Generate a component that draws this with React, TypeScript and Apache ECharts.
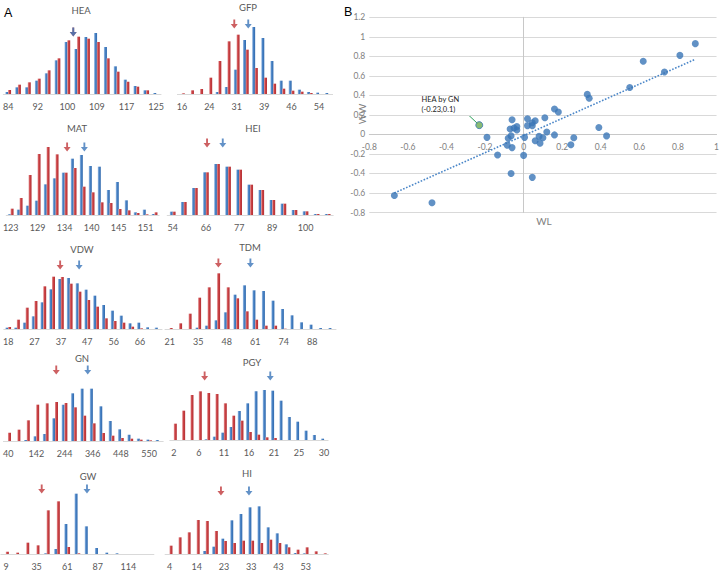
import React, { useEffect, useRef } from "react";
import * as echarts from "echarts";

// ---------- Panel A data (bar heights, relative frequency units) ----------
const HEA_TICKS = [84, 92, 100, 109, 117, 125];
const HEA_BLUE = [6, 20, 20, 40, 62, 101, 156, 135, 171, 183, 141, 83, 43, 24, 11, 3];
const HEA_RED = [12, 28, 35, 46, 71, 107, 161, 172, 166, 156, 107, 67, 37, 22, 11, 0];
const HEA_MEANS = [6.6, 6.6]; // [red, blue] in category units

const GFP_TICKS = [16, 24, 31, 39, 46, 54];
const GFP_BLUE = [0, 0, 0, 0, 6, 21, 73, 162, 201, 168, 99, 40, 40, 13, 6, 4, 3];
const GFP_RED = [2, 11, 15, 49, 99, 158, 178, 133, 78, 49, 31, 16, 10, 7, 3, 0, 0];
const GFP_MEANS = [5.73, 7.26];

const MAT_TICKS = [123, 129, 134, 140, 145, 151];
const MAT_BLUE = [2, 16, 28, 43, 92, 110, 127, 169, 180, 147, 145, 75, 99, 44, 8, 16, 3];
const MAT_RED = [19, 51, 120, 183, 204, 182, 127, 141, 85, 68, 38, 36, 18, 14, 6, 2, 8];
const MAT_MEANS = [6.27, 8.19];

const HEI_TICKS = [54, 66, 77, 89, 100];
const HEI_BLUE = [10, 39, 81, 128, 153, 145, 136, 91, 75, 45, 34, 15, 11, 3, 3];
const HEI_RED = [10, 39, 81, 128, 153, 145, 136, 91, 75, 45, 34, 15, 11, 3, 3];
const HEI_MEANS = [3.1, 4.52];

const VDW_TICKS = [18, 27, 37, 47, 56, 66];
const VDW_BLUE = [4, 4, 19, 38, 80, 119, 150, 153, 137, 118, 100, 72, 55, 40, 17, 19, 5, 4];
const VDW_RED = [6, 28, 64, 84, 128, 157, 156, 136, 112, 87, 67, 32, 24, 19, 7, 2, 0, 0];
const VDW_MEANS = [5.91, 8.07];

const TDM_TICKS = [21, 35, 48, 61, 74, 88];
const TDM_BLUE = [0, 0, 0, 4, 10, 26, 50, 103, 131, 116, 114, 85, 60, 41, 20, 13, 3, 3];
const TDM_RED = [3, 17, 46, 94, 125, 167, 125, 92, 53, 28, 10, 10, 1, 0, 0, 0, 0, 0];
const TDM_MEANS = [5.12, 8.49];

const GN_TICKS = [40, 142, 244, 346, 448, 550];
const GN_BLUE = [0, 0, 3, 14, 21, 68, 109, 143, 157, 157, 104, 60, 35, 19, 7, 4, 3];
const GN_RED = [25, 34, 62, 109, 113, 117, 114, 101, 76, 53, 24, 16, 9, 7, 4, 2, 0];
const GN_MEANS = [5.12, 8.47];

const PGY_TICKS = [2, 6, 11, 16, 21, 25, 30];
const PGY_BLUE = [0, 0, 0, 0, 2, 10, 22, 39, 87, 110, 146, 150, 148, 118, 69, 55, 28, 15, 4];
const PGY_RED = [49, 88, 135, 146, 141, 138, 110, 73, 58, 24, 16, 8, 6, 0, 0, 0, 0, 0, 0];
const PGY_MEANS = [3.68, 11.56];

const GW_TICKS = [9, 35, 61, 87, 114];
const GW_BLUE = [0, 0, 0, 0, 2, 15, 90, 181, 83, 18, 4, 2, 0, 0, 0];
const GW_RED = [7, 4, 34, 26, 131, 158, 21, 2, 0, 0, 0, 0, 0, 0, 0];
const GW_MEANS = [3.5, 7.94];

const HI_TICKS = [4, 14, 23, 33, 43, 53];
const HI_BLUE = [0, 0, 0, 0, 9, 22, 46, 101, 120, 140, 143, 80, 62, 29, 3, 2, 0, 0];
const HI_RED = [25, 50, 65, 102, 99, 69, 39, 33, 40, 40, 33, 43, 33, 20, 13, 20, 8, 2];
const HI_MEANS = [5.66, 8.75];

// ---------- Panel B data ----------
const WL_VALUES = [
  0.89, 0.81, 0.62, 0.73, 0.55, 0.33, 0.34, 0.16, 0.18, 0.11, 0.02, -0.06, 0.06, 0.045,
  0.02, 0.045, -0.035, -0.07, -0.05, -0.035, 0.39, -0.19, 0.43, 0.005, 0.26, 0.16, 0.12,
  -0.08, -0.065, 0.08, 0.1, 0.06, 0.085, 0.245, -0.085, -0.06, -0.135, 0.0, -0.065, 0.045,
  -0.67, -0.475,
];
const WW_VALUES = [
  0.93, 0.81, 0.75, 0.64, 0.48, 0.41, 0.37, 0.26, 0.23, 0.17, 0.16, 0.15, 0.14, 0.12,
  0.09, 0.09, 0.08, 0.055, 0.065, 0.045, 0.07, -0.03, -0.015, -0.03, -0.035, -0.005, 0.025,
  -0.04, -0.015, -0.02, -0.035, -0.065, -0.09, -0.105, -0.11, -0.135, -0.21, -0.215, -0.4,
  -0.44, -0.625, -0.7,
];
const HIGHLIGHT_WL = -0.23;
const HIGHLIGHT_WW = 0.095;
const HIGHLIGHT_LABEL = "HEA by GN\n(-0.23,0.1)";
const TREND_WL = [-0.67, 0.89];
const TREND_WW = [-0.6, 0.77];

const panels = [
  { name: "HEA", ticks: HEA_TICKS, blue: HEA_BLUE, red: HEA_RED, means: HEA_MEANS },
  { name: "GFP", ticks: GFP_TICKS, blue: GFP_BLUE, red: GFP_RED, means: GFP_MEANS },
  { name: "MAT", ticks: MAT_TICKS, blue: MAT_BLUE, red: MAT_RED, means: MAT_MEANS },
  { name: "HEI", ticks: HEI_TICKS, blue: HEI_BLUE, red: HEI_RED, means: HEI_MEANS },
  { name: "VDW", ticks: VDW_TICKS, blue: VDW_BLUE, red: VDW_RED, means: VDW_MEANS },
  { name: "TDM", ticks: TDM_TICKS, blue: TDM_BLUE, red: TDM_RED, means: TDM_MEANS },
  { name: "GN", ticks: GN_TICKS, blue: GN_BLUE, red: GN_RED, means: GN_MEANS },
  { name: "PGY", ticks: PGY_TICKS, blue: PGY_BLUE, red: PGY_RED, means: PGY_MEANS },
  { name: "GW", ticks: GW_TICKS, blue: GW_BLUE, red: GW_RED, means: GW_MEANS },
  { name: "HI", ticks: HI_TICKS, blue: HI_BLUE, red: HI_RED, means: HI_MEANS },
];

// layout (pixels): grid left/width, baseline y, arrow height (value units), title position
const layout = [
  { left: 3.1, width: 157.9, base: 94, arrowY: 186, tx: 81, ty: 10 },
  { left: 177.4, width: 155.2, base: 94, arrowY: 210, tx: 248, ty: 7 },
  { left: 2.7, width: 156.4, base: 215, arrowY: 204, tx: 77, ty: 128 },
  { left: 167.2, width: 166, base: 215, arrowY: 216, tx: 253, ty: 128 },
  { left: 3.6, width: 158.4, base: 329, arrowY: 192, tx: 82, ty: 249 },
  { left: 165, width: 171, base: 329, arrowY: 198, tx: 250, ty: 247 },
  { left: 0.5, width: 162.7, base: 441, arrowY: 213, tx: 82, ty: 358 },
  { left: 169.8, width: 158.3, base: 440, arrowY: 192, tx: 252, ty: 362 },
  { left: 0.9, width: 153, base: 554, arrowY: 195, tx: 88, ty: 476 },
  { left: 165.1, width: 163.2, base: 554, arrowY: 189, tx: 247, ty: 473 },
];

const BLUE = "#3b76b9";
const RED = "#c0383b";
const ARROW = "path://M2.2,0 L3.8,0 L3.8,4 L6,4 L3,8 L0,4 L2.2,4 Z";
const FONT = "Lato, 'Liberation Sans', sans-serif";

function buildOption() {
  const grid: any[] = [];
  const xAxis: any[] = [];
  const yAxis: any[] = [];
  const series: any[] = [];
  const graphic: any[] = [];

  const blueGrad = new echarts.graphic.LinearGradient(0, 0, 1, 0, [
    { offset: 0, color: "#a7c3e6" },
    { offset: 0.4, color: "#4a84c6" },
    { offset: 1, color: "#3069ad" },
  ]);
  const redGrad = new echarts.graphic.LinearGradient(0, 0, 1, 0, [
    { offset: 0, color: "#e6a3a4" },
    { offset: 0.4, color: "#cc4346" },
    { offset: 1, color: "#b33034" },
  ]);

  const H = 80;
  panels.forEach((p, i) => {
    const L = layout[i];
    const n = p.blue.length;
    grid.push({ left: L.left, top: L.base - H, width: L.width, height: H });
    const cats = p.blue.map((_, k) =>
      k % 3 === 0 && p.ticks[k / 3] !== undefined ? String(p.ticks[k / 3]) : ""
    );
    xAxis.push({
      type: "category",
      gridIndex: i,
      data: cats,
      axisTick: { show: false },
      axisLine: { lineStyle: { color: "#d9d9d9", width: 1 } },
      axisLabel: { interval: 0, color: "#595959", fontSize: 9, margin: 8, fontFamily: FONT },
      splitLine: { show: false },
    });
    xAxis.push({ type: "value", gridIndex: i, min: -0.5, max: n - 0.5, show: false });
    yAxis.push({ type: "value", gridIndex: i, min: 0, max: H * 3, show: false });
    series.push({
      type: "bar",
      xAxisIndex: 2 * i,
      yAxisIndex: i,
      data: p.blue,
      barWidth: 3,
      barGap: "-10%",
      itemStyle: { color: blueGrad },
    });
    series.push({
      type: "bar",
      xAxisIndex: 2 * i,
      yAxisIndex: i,
      data: p.red,
      barWidth: 3,
      barGap: "-10%",
      itemStyle: { color: redGrad },
    });
    series.push({
      type: "scatter",
      xAxisIndex: 2 * i + 1,
      yAxisIndex: i,
      symbol: ARROW,
      symbolSize: [7, 9],
      z: 5,
      data: [
        { value: [p.means[0], L.arrowY], itemStyle: { color: RED } },
        { value: [p.means[1], L.arrowY], itemStyle: { color: BLUE } },
      ],
    });
    graphic.push({
      type: "text",
      x: L.tx,
      y: L.ty,
      style: {
        text: p.name,
        fill: "#595959",
        font: `9.5px ${FONT}`,
        align: "center",
        verticalAlign: "middle",
      },
    });
  });

  // Panel B
  const gi = panels.length;
  const bTop = 17.3;
  const bHeight = 195.2;
  grid.push({ left: 369.3, top: bTop, width: 349, height: bHeight });
  xAxis.push({
    type: "value",
    gridIndex: gi,
    min: -0.8,
    max: 1,
    interval: 0.2,
    position: "bottom",
    // x axis drawn through WW = 0 (0.8 of the 2.0 range above the bottom)
    offset: -(bHeight * 0.8) / 2.0,
    axisLine: { show: true, onZero: false, lineStyle: { color: "#c8c8c8" } },
    axisTick: { show: false },
    axisLabel: {
      color: "#808080",
      fontSize: 8.5,
      margin: 8,
      fontFamily: FONT,
      showMinLabel: true,
      showMaxLabel: true,
      hideOverlap: false,
    },
    splitLine: { show: false },
  });
  yAxis.push({
    type: "value",
    gridIndex: gi,
    min: -0.8,
    max: 1.2,
    interval: 0.2,
    axisLine: { show: true, onZero: true, lineStyle: { color: "#c8c8c8" } },
    axisTick: { show: false },
    axisLabel: { color: "#808080", fontSize: 8.5, margin: 4, fontFamily: FONT, showMaxLabel: true },
    splitLine: { show: true, lineStyle: { color: "#d9d9d9" } },
  });
  const xi = xAxis.length - 1;
  const yi = yAxis.length - 1;
  series.push({
    type: "line",
    xAxisIndex: xi,
    yAxisIndex: yi,
    data: TREND_WL.map((x, k) => [x, TREND_WW[k]]),
    symbol: "none",
    lineStyle: { type: "dotted", color: "#4a86c8", width: 1.6 },
    z: 3,
  });
  series.push({
    type: "scatter",
    xAxisIndex: xi,
    yAxisIndex: yi,
    data: WL_VALUES.map((x, k) => [x, WW_VALUES[k]]),
    symbolSize: 7,
    itemStyle: { color: "#3a75b7" },
    z: 4,
  });
  series.push({
    type: "scatter",
    xAxisIndex: xi,
    yAxisIndex: yi,
    data: [[HIGHLIGHT_WL, HIGHLIGHT_WW]],
    symbolSize: 7,
    itemStyle: { color: "#6aaa50", borderColor: "#3a75b7", borderWidth: 1 },
    z: 5,
  });

  graphic.push(
    {
      type: "text",
      x: 4,
      y: 12.5,
      style: { text: "A", fill: "#000", font: `12.5px 'Liberation Sans', Arial, sans-serif`, verticalAlign: "middle" },
    },
    {
      type: "text",
      x: 344,
      y: 11.5,
      style: { text: "B", fill: "#000", font: `12.5px 'Liberation Sans', Arial, sans-serif`, verticalAlign: "middle" },
    },
    {
      type: "text",
      x: 362,
      y: 114,
      rotation: Math.PI / 2,
      style: { text: "WW", fill: "#808080", font: `10px ${FONT}`, align: "center", verticalAlign: "middle" },
    },
    {
      type: "text",
      x: 544,
      y: 221,
      style: { text: "WL", fill: "#808080", font: `10px ${FONT}`, align: "center", verticalAlign: "middle" },
    },
    {
      type: "text",
      x: 421.5,
      y: 104,
      style: {
        text: HIGHLIGHT_LABEL,
        fill: "#222",
        font: `7.5px ${FONT}`,
        align: "left",
        verticalAlign: "middle",
        lineHeight: 10,
      },
    },
    {
      type: "line",
      shape: { x1: 469, y1: 115.5, x2: 477.5, y2: 123.5 },
      style: { stroke: "#2ca05a", lineWidth: 1 },
    }
  );

  return { animation: false, grid, xAxis, yAxis, series, graphic };
}

export default function App() {
  const ref = useRef<HTMLDivElement>(null);
  useEffect(() => {
    if (!ref.current) return;
    const chart = echarts.init(ref.current, undefined, { renderer: "svg" });
    chart.setOption(buildOption() as any);
    return () => chart.dispose();
  }, []);
  return (
    <div
      ref={ref}
      style={{ position: "absolute", left: 0, top: 0, width: 722, height: 572, background: "#fff" }}
    />
  );
}
